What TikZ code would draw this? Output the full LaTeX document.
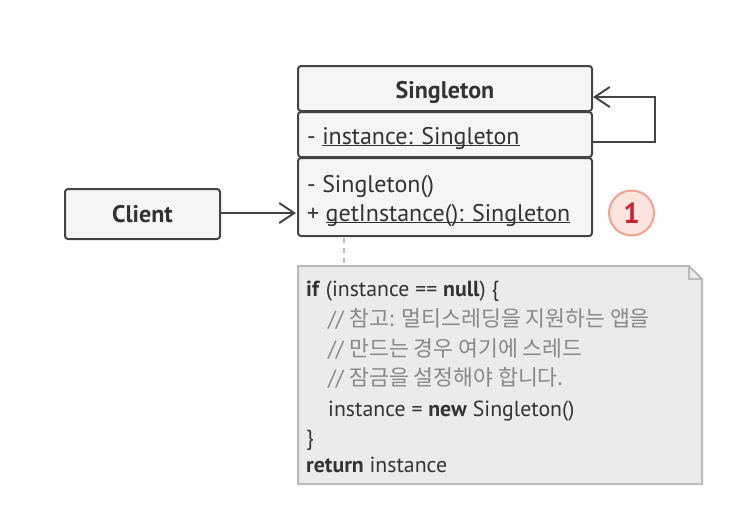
\documentclass[tikz,border=0pt]{standalone}
\usepackage{fontspec}
\setmainfont{PT Sans}
\newfontfamily\kofont{Noto Sans CJK KR}
\usetikzlibrary{arrows.meta}
\definecolor{boxfill}{HTML}{F5F5F5}
\definecolor{boxline}{HTML}{444444}
\definecolor{txt}{HTML}{333333}
\definecolor{notefill}{HTML}{EBEBEB}
\definecolor{noteline}{HTML}{BBBBBB}
\definecolor{cmt}{HTML}{888888}
\definecolor{badgefill}{HTML}{FDE4DF}
\definecolor{badgeline}{HTML}{F4A191}
\definecolor{badgetxt}{HTML}{C8252F}
\newcommand{\ul}[1]{\underline{\smash{#1}}}
\tikzset{
  umlbox/.style={draw=boxline, fill=boxfill, line width=2pt, rounded corners=3pt},
  lbl/.style={font=\fontsize{24}{28}\selectfont, text=txt, inner sep=0pt},
  codeln/.style={font=\fontsize{21.8}{26}\selectfont, text=txt, inner sep=0pt, anchor=base west},
  arr/.style={draw=boxline, line width=2pt, -{Straight Barb[length=15pt,width=20pt,line width=2pt]}},
}
\newcommand{\kor}{\kofont\fontsize{21.6}{24}\selectfont}
\begin{document}
\begin{tikzpicture}[x=1pt,y=-1pt]
\useasboundingbox (0,0) rectangle (750,523);
% Singleton class
\draw[umlbox] (298,66) rectangle (592,111);
\draw[umlbox] (298,112) rectangle (592,157);
\draw[umlbox] (298,158) rectangle (592,236);
\node[lbl, font=\fontsize{24}{28}\selectfont\bfseries, anchor=base] (title) at (445,98) {Singleton};
\node[lbl, anchor=base west] (attr) at (307,144) {- \ul{instance: Singleton}};
\node[lbl, anchor=base west] (m1) at (307,192) {- Singleton()};
\node[lbl, anchor=base west] (m2) at (307,221) {+ \ul{getInstance(): Singleton}};
\coordinate (loopA) at (592,142);
\coordinate (loopB) at (655,142);
\coordinate (loopC) at (655,97);
\coordinate (loopD) at (593,97);
\draw[arr] (loopA) -- (loopB) -- (loopC) -- (loopD);
% Client
\draw[umlbox] (65,189) rectangle (220,239);
\node[lbl, font=\fontsize{24}{28}\selectfont\bfseries] (client) at (142.5,214) {Client};
\coordinate (cA) at (221,213);
\coordinate (cB) at (296,213);
\draw[arr] (cA) -- (cB);
% badge
\node[circle, draw=badgeline, fill=badgefill, line width=2pt, minimum size=45pt, inner sep=0pt,
      text=badgetxt, font=\fontsize{29}{32}\selectfont\bfseries] (badge) at (631.5,213) {1};
% note connector
\coordinate (nA) at (344,238);
\coordinate (nB) at (344,265);
\draw[noteline, line width=2pt, dash pattern=on 5pt off 5pt] (nA) -- (nB);
% note
\draw[draw=noteline, fill=notefill, line width=2pt] (298,266) -- (689,266) -- (702,279) -- (702,484) -- (298,484) -- cycle;
\draw[draw=noteline, line width=1.5pt] (689,266) -- (689,279) -- (702,279);
\node[codeln] (c1) at (306,296) {\textbf{if} (instance == \textbf{null}) \{};
\node[codeln, text=cmt] (c2) at (328,326) {// {\kor 참고: 멀티스레딩을 지원하는 앱을}};
\node[codeln, text=cmt] (c3) at (328,356) {// {\kor 만드는 경우 여기에 스레드}};
\node[codeln, text=cmt] (c4) at (328,385) {// {\kor 잠금을 설정해야 합니다.}};
\node[codeln] (c5) at (328,416) {instance = \textbf{new} Singleton()};
\node[codeln] (c6) at (306,445) {\}};
\node[codeln] (c7) at (306,472) {\textbf{return} instance};
\end{tikzpicture}
\end{document}
